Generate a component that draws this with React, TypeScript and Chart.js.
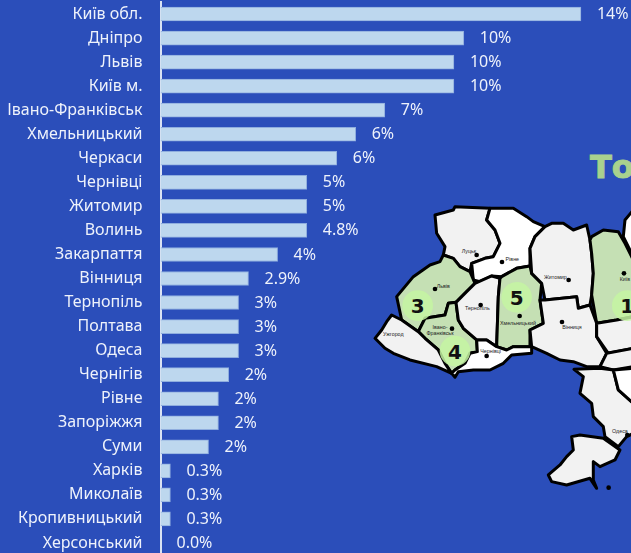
import React, { useEffect, useRef } from "react";
import { Chart, registerables } from "chart.js";

Chart.register(...registerables);

const categories = ["Київ обл.", "Дніпро", "Львів", "Київ м.", "Івано-Франківськ", "Хмельницький", "Черкаси", "Чернівці", "Житомир", "Волинь", "Закарпаття", "Вінниця", "Тернопіль", "Полтава", "Одеса", "Чернігів", "Рівне", "Запоріжжя", "Суми", "Харків", "Миколаїв", "Кропивницький", "Херсонський"];
const values = [14, 10.1, 9.77, 9.77, 7.47, 6.5, 5.87, 4.87, 4.87, 4.87, 3.9, 2.93, 2.6, 2.6, 2.6, 2.27, 1.93, 1.93, 1.6, 0.33, 0.33, 0.33, 0];
const valueLabels = ["14%", "10%", "10%", "10%", "7%", "6%", "6%", "5%", "5%", "4.8%", "4%", "2.9%", "3%", "3%", "3%", "2%", "2%", "2%", "2%", "0.3%", "0.3%", "0.3%", "0.0%"];

const BG = "#2b4eba";
const FONT = "'Noto Sans', sans-serif";
const GREEN = "#c5e0b4";
const GREY = "#f2f2f2";
const WHITE = "#ffffff";

const regions: [string, string][] = [
  [GREY, "195,225 250,210 255,200 360,205 350,240 375,270 390,310 370,350 345,355 305,370 300,395 270,380 250,355 220,345 225,320 200,280"],
  [WHITE, "360,205 430,205 470,230 490,245 525,260 495,290 480,325 480,378 440,385 395,410 365,408 330,425 310,420 305,370 345,355 370,350 390,310 375,270 350,240"],
  [GREEN, "220,345 250,355 270,380 300,395 315,430 290,455 258,487 235,490 225,525 165,535 145,575 95,540 80,470 130,410 180,375 210,365"],
  [GREEN, "235,490 258,487 265,540 280,565 320,600 322,635 300,640 285,670 255,690 245,700 225,670 205,630 165,595 145,575 165,535 225,525"],
  [GREY, "65,525 95,540 145,575 165,595 205,630 225,670 245,700 200,680 120,660 70,640 45,625 15,595 35,570 50,545"],
  [GREY, "315,430 365,408 390,415 385,470 380,620 350,600 320,600 280,565 265,540 258,487 290,455"],
  [GREEN, "395,410 440,385 480,378 485,400 515,430 510,480 520,550 480,570 480,620 430,620 410,630 380,620 385,470 390,415"],
  [WHITE, "320,600 350,600 380,620 410,630 430,620 485,620 485,640 425,645 400,670 360,690 310,690 265,695 255,712 245,700 255,690 285,670 300,640 322,635"],
  [GREY, "525,260 545,250 580,250 610,270 650,255 660,300 665,340 670,400 665,465 660,495 625,505 620,470 525,480 515,430 485,400 480,325 495,290"],
  [GREEN, "665,290 700,270 745,275 765,310 790,360 790,530 740,540 680,550 665,465 670,400 665,340 660,300"],
  [GREY, "525,480 620,470 625,505 660,495 680,550 680,590 710,640 690,680 650,680 610,665 570,660 530,640 485,620 480,570 520,550 510,480"],
  [GREY, "680,550 740,540 790,530 790,625 715,640 680,590"],
  [WHITE, "790,210 765,240 760,290 790,350"],
  [GREY, "710,640 790,625 790,680 730,690 690,680"],
  [GREY, "612,688 690,685 730,690 745,750 790,790 790,880 770,890 745,920 705,890 700,860 670,830 665,790 630,760 640,710"],
  [WHITE, "730,690 790,685 790,790 745,750"],
  [GREY, "605,890 630,885 700,895 750,930 735,960 690,980 670,965 670,1020 680,1045 660,1015 590,1035 545,1025 535,1005 570,975 590,950 610,930"],
];

const dots = [[320, 345], [396, 366], [195, 447], [332, 495], [449, 528], [246, 566], [350, 648], [596, 420], [576, 546], [762, 400], [772, 885], [716, 1043]];
const mapLabels: [string, number, number][] = [
  ["Луцьк", 297, 338], ["Рівне", 427, 364], ["Львів", 220, 443], ["Тернопіль", 322, 510], ["Хмельницький", 444, 554],
  ["Житомир", 556, 416], ["Вінниця", 606, 568], ["Київ", 765, 422], ["Ужгород", 70, 588], ["Івано-", 210, 566],
  ["Франківськ", 210, 584], ["Чернівці", 362, 640], ["Одеса", 750, 880],
];
const badges: [string, number, number][] = [["3", 143, 499], ["4", 255, 635], ["5", 440, 474], ["1", 772, 499]];

const valueLabelPlugin = {
  id: "valueLabels",
  afterDatasetsDraw(chart: any) {
    const { ctx } = chart;
    const meta = chart.getDatasetMeta(0);
    ctx.save();
    ctx.font = `16px ${FONT}`;
    ctx.fillStyle = "#eef2fb";
    ctx.textAlign = "left";
    ctx.textBaseline = "middle";
    meta.data.forEach((el: any, i: number) => ctx.fillText(valueLabels[i], el.x + 16, el.y + 0.5));
    ctx.restore();
  },
};

function UkraineMap() {
  return (
    <svg width={631} height={553} style={{ position: "absolute", left: 0, top: 0 }}>
      <text x={590} y={178} fontFamily="'DejaVu Sans', sans-serif" fontWeight={700} fontSize={32} fill="#a9d18e" stroke="#a9d18e" strokeWidth={1}>Топ</text>
      <g transform="translate(370 140) scale(0.3333)">
        {regions.map(([fill, points], i) => (
          <polygon key={i} points={points} fill={fill} stroke="#000" strokeWidth={9} strokeLinejoin="round" />
        ))}
        {dots.map(([x, y], i) => <circle key={i} cx={x} cy={y} r={7} fill="#000" />)}
        {mapLabels.map(([t, x, y], i) => (
          <text key={i} x={x} y={y} textAnchor="middle" fontFamily="'Liberation Sans', sans-serif" fontSize={16} fill="#222">{t}</text>
        ))}
        {badges.map(([t, x, y], i) => (
          <g key={i}>
            <circle cx={x} cy={y - 2} r={46} fill="#c4f5a2" fillOpacity={0.85} />
            <text x={x} y={y + 21} textAnchor="middle" fontFamily="'DejaVu Sans', sans-serif" fontWeight={700} fontSize={60} fill="#111">{t}</text>
          </g>
        ))}
      </g>
    </svg>
  );
}

export default function App() {
  const ref = useRef<HTMLCanvasElement>(null);
  useEffect(() => {
    document.body.style.margin = "0";
    document.body.style.background = BG;
    const chart = new Chart(ref.current!, {
      type: "bar",
      data: {
        labels: categories,
        datasets: [{
          data: values,
          backgroundColor: "#bdd7ee",
          borderColor: "#8fadde",
          borderWidth: 1,
          barThickness: 14,
        }],
      },
      options: {
        indexAxis: "y",
        responsive: false,
        animation: false,
        layout: { padding: { top: 2, bottom: 0, left: 0, right: 0 } },
        plugins: { legend: { display: false }, tooltip: { enabled: false } },
        scales: {
          x: { display: false, min: 0, max: 15.667, grid: { display: false } },
          y: {
            afterFit(scale: any) { scale.width = 160.5; scale.paddingTop = 0; scale.paddingBottom = 0; },
            grid: { display: false, drawTicks: false },
            border: { display: true, color: "#d9e2f3", width: 2 },
            ticks: { color: "#eef2fb", font: { family: "'Noto Sans', sans-serif", size: 16 }, padding: 18, autoSkip: false },
          },
        },
      },
      plugins: [valueLabelPlugin],
    } as any);
    return () => chart.destroy();
  }, []);
  return (
    <div style={{ position: "relative", width: 631, height: 553, overflow: "hidden", background: BG }}>
      <UkraineMap />
      <canvas ref={ref} width={631} height={555} style={{ position: "absolute", left: 0, top: 0, display: "block" }} />
    </div>
  );
}
